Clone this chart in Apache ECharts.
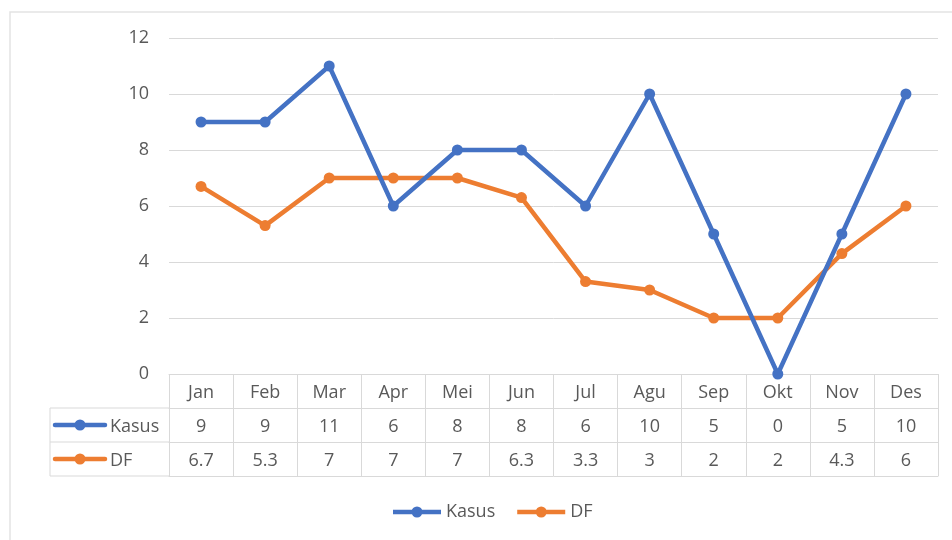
<!DOCTYPE html>
<html>
<head>
<meta charset="utf-8">
<script src="https://cdn.jsdelivr.net/npm/echarts@6/dist/echarts.min.js"></script>
<style>
  html, body { margin: 0; padding: 0; background: #fff; }
  #main { width: 952px; height: 540px; }
</style>
</head>
<body>
<div id="main"></div>
<script>
// data
var months = ['Jan', 'Feb', 'Mar', 'Apr', 'Mei', 'Jun', 'Jul', 'Agu', 'Sep', 'Okt', 'Nov', 'Des'];
var kasus = [9, 9, 11, 6, 8, 8, 6, 10, 5, 0, 5, 10];
var df = [6.7, 5.3, 7, 7, 7, 6.3, 3.3, 3, 2, 2, 4.3, 6];

var BLUE = '#4472C4';
var ORANGE = '#ED7D31';
var GRID_COLOR = '#d9d9d9';
var TEXT_COLOR = '#595959';
var FONT = 'Open Sans';
var FONT_SIZE = 18;

var ROW_H = 34;
var gridLeft = 169, gridRight = 14, gridTop = 38, gridBottom = 166;
var tableTop = 540 - gridBottom;

// ikon legenda: garis tebal dengan titik bulat di tengah
var KEY_ICON = 'path://M0,3.75L48,3.75L48,8.25L0,8.25Z M24,0.5A5.5,5.5 0 1 1 24,11.5A5.5,5.5 0 1 1 24,0.5Z';

var chart = echarts.init(document.getElementById('main'));

// baris tabel data di bawah grafik, dibuat dari sumbu x tambahan
function rowAxis(offset, values, showLine) {
    return {
        type: 'category',
        data: months,
        position: 'bottom',
        offset: offset,
        axisLine: { show: showLine, lineStyle: { color: GRID_COLOR, width: 1 } },
        axisTick: { show: false },
        axisLabel: {
            show: !!values,
            margin: 10,
            color: TEXT_COLOR,
            fontFamily: FONT,
            fontSize: FONT_SIZE,
            formatter: function (v, i) { return values ? String(values[i]) : ''; }
        }
    };
}

// kunci legenda di kolom kiri tabel
function rowKey(y, color, name) {
    return [
        { type: 'line', shape: { x1: 55, y1: y, x2: 105, y2: y },
          style: { stroke: color, lineWidth: 4.5, lineCap: 'round' }, z: 10 },
        { type: 'circle', shape: { cx: 80, cy: y, r: 5.5 }, style: { fill: color }, z: 10 },
        { type: 'text', x: 110, y: y + 2, style: { text: name, fill: TEXT_COLOR, font: FONT_SIZE + 'px "' + FONT + '"',
          verticalAlign: 'middle' }, z: 10 }
    ];
}

var tableLeft = 50;
var graphics = [
    { type: 'rect', shape: { x: 10, y: 12, width: 1000, height: 600 },
      style: { fill: 'none', stroke: '#e3e3e3', lineWidth: 1.5 }, z: -1 },
    // garis kolom kiri
    { type: 'line', shape: { x1: tableLeft, y1: tableTop + ROW_H, x2: gridLeft, y2: tableTop + ROW_H },
      style: { stroke: GRID_COLOR, lineWidth: 1 } },
    { type: 'line', shape: { x1: tableLeft, y1: tableTop + 2 * ROW_H, x2: gridLeft, y2: tableTop + 2 * ROW_H },
      style: { stroke: GRID_COLOR, lineWidth: 1 } },
    { type: 'line', shape: { x1: tableLeft, y1: tableTop + 3 * ROW_H, x2: gridLeft, y2: tableTop + 3 * ROW_H },
      style: { stroke: GRID_COLOR, lineWidth: 1 } },
    { type: 'line', shape: { x1: tableLeft, y1: tableTop + ROW_H, x2: tableLeft, y2: tableTop + 3 * ROW_H },
      style: { stroke: GRID_COLOR, lineWidth: 1 } }
].concat(rowKey(tableTop + ROW_H * 1.5, BLUE, 'Kasus'))
 .concat(rowKey(tableTop + ROW_H * 2.5, ORANGE, 'DF'));

var xAxes = [rowAxis(0, months, true), rowAxis(ROW_H, kasus, true), rowAxis(ROW_H * 2, df, true), rowAxis(ROW_H * 3, null, true)];
// garis vertikal tabel dari tick sumbu utama
xAxes[0].axisTick = { show: true, length: ROW_H * 3, lineStyle: { color: GRID_COLOR, width: 1 } };

var option = {
    backgroundColor: '#fff',
    animation: false,
    textStyle: { fontFamily: FONT },
    grid: { left: gridLeft, right: gridRight, top: gridTop, bottom: gridBottom },
    legend: {
        data: [
            { name: 'Kasus', icon: KEY_ICON },
            { name: 'DF', icon: KEY_ICON }
        ],
        bottom: 14,
        left: 388,
        itemWidth: 48,
        itemHeight: 12,
        itemGap: 22,
        textStyle: { color: TEXT_COLOR, fontSize: FONT_SIZE, fontFamily: FONT }
    },
    xAxis: xAxes,
    yAxis: {
        type: 'value',
        min: 0,
        max: 12,
        interval: 2,
        axisLine: { show: false },
        axisTick: { show: false },
        axisLabel: { color: TEXT_COLOR, fontSize: FONT_SIZE, fontFamily: FONT, margin: 20 },
        splitLine: { lineStyle: { color: GRID_COLOR, width: 1 } }
    },
    graphic: graphics,
    series: [
        {
            name: 'Kasus',
            type: 'line',
            xAxisIndex: 0,
            data: kasus,
            symbol: 'circle',
            symbolSize: 11,
            lineStyle: { color: BLUE, width: 4.5 },
            itemStyle: { color: BLUE },
            z: 3
        },
        {
            name: 'DF',
            type: 'line',
            xAxisIndex: 0,
            data: df,
            symbol: 'circle',
            symbolSize: 11,
            lineStyle: { color: ORANGE, width: 4.5 },
            itemStyle: { color: ORANGE },
            z: 2
        }
    ]
};

chart.setOption(option);
</script>
</body>
</html>
